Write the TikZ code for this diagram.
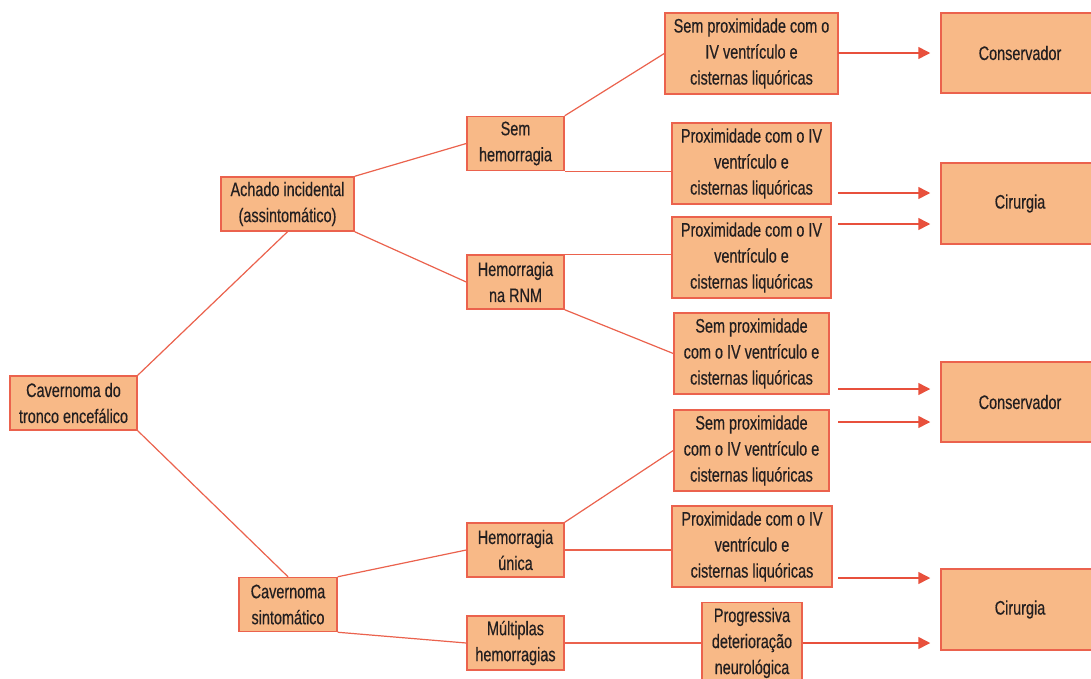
\documentclass[tikz,border=0pt]{standalone}
\usepackage{fontspec}
\setmainfont{Liberation Sans}[FakeStretch=0.74, FakeBold=0.4]
\usepackage{tikz}
\usetikzlibrary{arrows.meta}
\definecolor{boxfill}{HTML}{F8B987}
\definecolor{boxline}{HTML}{EB624D}
\definecolor{arrowclr}{HTML}{E8503C}
\definecolor{textclr}{HTML}{231F20}
\tikzstyle{block} = [rectangle, draw=boxline, fill=boxfill, line width=1.5pt, inner sep=0pt, align=center, text=textclr, font=\fontsize{19.5}{26}\selectfont, minimum height=54pt]
\tikzstyle{tall} = [block, minimum height=81pt]
\tikzstyle{link} = [draw=boxline, line width=1.2pt]
\tikzstyle{goes} = [draw=arrowclr, line width=1.5pt, -{Triangle[length=12pt,width=12pt]}, shorten >=10pt]

\begin{document}
\begin{tikzpicture}
  \clip (0pt, 0pt) rectangle (1091pt, -678pt);
  \fill[white] (0pt, 0pt) rectangle (1091pt, -678pt);
  \draw (73.5pt, -403.0pt)node[block, minimum width=127pt](0){Cavernoma do\\tronco encefálico};
  \draw (287.5pt, -204.0pt)node[block, minimum width=133pt](1){Achado incidental\\(assintomático)};
  \draw (515.5pt, -143.5pt)node[block, minimum width=97pt](2){Sem\\hemorragia};
  \draw (515.5pt, -282.0pt)node[block, minimum width=97pt](3){Hemorragia\\na RNM};
  \draw (288.0pt, -604.5pt)node[block, minimum width=98pt](4){Cavernoma\\sintomático};
  \draw (515.5pt, -550.0pt)node[block, minimum width=97pt](5){Hemorragia\\única};
  \draw (515.5pt, -643.0pt)node[block, minimum width=97pt](6){Múltiplas\\hemorragias};
  \draw (751.5pt, -53.5pt)node[tall, minimum width=173pt](7){Sem proximidade com o\\IV ventrículo e\\cisternas liquóricas};
  \draw (751.5pt, -163.5pt)node[tall, minimum width=159pt](8){Proximidade com o IV\\ventrículo e\\cisternas liquóricas};
  \draw (751.5pt, -257.5pt)node[tall, minimum width=159pt](9){Proximidade com o IV\\ventrículo e\\cisternas liquóricas};
  \draw (751.5pt, -353.5pt)node[tall, minimum width=155pt](10){Sem proximidade\\com o IV ventrículo e\\cisternas liquóricas};
  \draw (751.5pt, -450.5pt)node[tall, minimum width=155pt](11){Sem proximidade\\com o IV ventrículo e\\cisternas liquóricas};
  \draw (752.0pt, -546.5pt)node[tall, minimum width=160pt](12){Proximidade com o IV\\ventrículo e\\cisternas liquóricas};
  \draw (752.0pt, -643.0pt)node[tall, minimum width=100pt](13){Progressiva\\deterioração\\neurológica};
  \draw (1020.0pt, -53.0pt)node[tall, minimum width=158pt, minimum height=80pt](14){Conservador};
  \draw (1020.0pt, -203.5pt)node[tall, minimum width=158pt](15){Cirurgia};
  \draw (1020.0pt, -402.0pt)node[tall, minimum width=158pt, minimum height=80pt](16){Conservador};
  \draw (1020.0pt, -609.5pt)node[tall, minimum width=158pt](17){Cirurgia};
  % loose ends of the arrows
  \coordinate (a1) at (838pt, -53pt);
  \coordinate (a2) at (838pt, -193pt);
  \coordinate (a3) at (838pt, -224pt);
  \coordinate (a4) at (838pt, -389pt);
  \coordinate (a5) at (838pt, -422pt);
  \coordinate (a6) at (838pt, -578pt);
  \path[link] (0.north east) -- (1.south);
  \path[link] (0.south east) -- (4.north);
  \path[link] (1.north east) -- (2.west);
  \path[link] (1.south east) -- (3.west);
  \path[link] (2.north east) -- (7.west);
  \path[link] (2.south east) -- (2.south east -| 8.west);
  \path[link] (3.north east) -- (3.north east -| 9.west);
  \path[link] (3.south east) -- (10.west);
  \path[link] (4.north east) -- (5.west);
  \path[link] (4.south east) -- (6.west);
  \path[link] (5.north east) -- (11.west);
  \path[link] (5.east) -- (5.east -| 12.west);
  \path[link] (6.east) -- (13.west);
  \path[goes] (a1) -- (a1 -| 14.west);
  \path[goes] (a2) -- (a2 -| 15.west);
  \path[goes] (a3) -- (a3 -| 15.west);
  \path[goes] (a4) -- (a4 -| 16.west);
  \path[goes] (a5) -- (a5 -| 16.west);
  \path[goes] (a6) -- (a6 -| 17.west);
  \path[goes] (13.east) -- (13.east -| 17.west);
\end{tikzpicture}
\end{document}
